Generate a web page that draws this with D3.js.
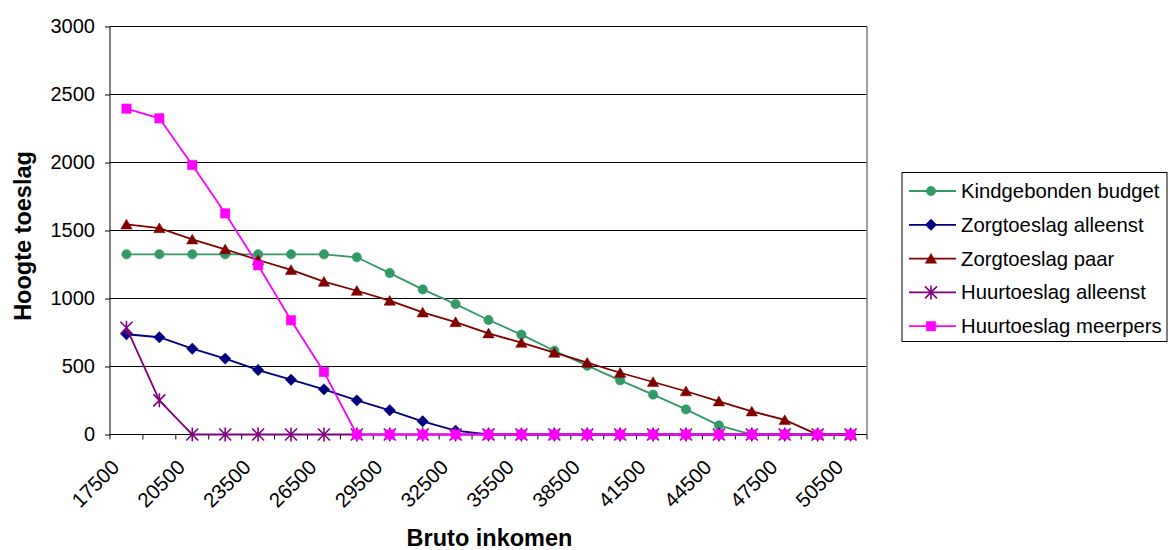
<!DOCTYPE html>
<meta charset="utf-8">
<style>
body { margin: 0; background: #fff; }
svg text { font-family: "Liberation Sans", Arial, sans-serif; }
</style>
<body>
<div id="chart"></div>
<script src="https://d3js.org/d3.v7.min.js"></script>
<script>
// x categories: bruto inkomen, step 1500
var incomes = [17500, 19000, 20500, 22000, 23500, 25000, 26500, 28000, 29500, 31000, 32500, 34000,
  35500, 37000, 38500, 40000, 41500, 43000, 44500, 46000, 47500, 49000, 50500];
var yTicks = [0, 500, 1000, 1500, 2000, 2500, 3000];

var seriesNames = ["Kindgebonden budget", "Zorgtoeslag alleenst", "Zorgtoeslag paar",
  "Huurtoeslag alleenst", "Huurtoeslag meerpers"];

var kindgebonden = [1325, 1325, 1325, 1325, 1325, 1325, 1325, 1303, 1187, 1067, 959, 842,
  734, 616, 506, 398, 293, 185, 67, 0, 0, 0, 0];
var zorgAlleen = [737, 715, 631, 558, 474, 403, 332, 251, 178, 97, 28, 0,
  0, 0, 0, 0, 0, 0, 0, 0, 0, 0, 0];
var zorgPaar = [1545, 1518, 1435, 1362, 1283, 1210, 1124, 1057, 984, 898, 827, 744,
  675, 602, 528, 454, 386, 318, 244, 170, 107, 0, 0];
var huurAlleen = [785, 251, 0, 0, 0, 0, 0, 0, 0, 0, 0, 0,
  0, 0, 0, 0, 0, 0, 0, 0, 0, 0, 0];
var huurMeer = [2396, 2325, 1982, 1626, 1244, 840, 460, 0, 0, 0, 0, 0,
  0, 0, 0, 0, 0, 0, 0, 0, 0, 0, 0];

var seriesValues = [kindgebonden, zorgAlleen, zorgPaar, huurAlleen, huurMeer];
var colors = ["#339966", "#000080", "#800000", "#800080", "#ff00ff"];
var shapes = ["circle", "diamond", "triangle", "star", "square"];

var w = 1168, h = 550;
var plotLeft = 110, plotRight = 867, plotTop = 26.5, plotBottom = 434.5;

var svg = d3.select("#chart").append("svg")
  .attr("width", w)
  .attr("height", h);

var x = d3.scaleBand()
  .domain(incomes)
  .range([plotLeft, plotRight])
  .padding(0);

var y = d3.scaleLinear()
  .domain([0, 3000])
  .range([plotBottom, plotTop]);

function cx(d, i) { return x(incomes[i]) + x.bandwidth() / 2; }

// marker path generator
function marker(shape) {
  if (shape == "circle") return "M4.7,0A4.7,4.7 0 1,1 -4.7,0A4.7,4.7 0 1,1 4.7,0Z";
  if (shape == "diamond") return "M0,-5.7L5.7,0L0,5.7L-5.7,0Z";
  if (shape == "triangle") return "M0,-5.2L5.7,4.6L-5.7,4.6Z";
  if (shape == "square") return "M-4.7,-4.7H4.7V4.7H-4.7Z";
  // star: X plus vertical bar
  return "M-6,-6L6,6M-6,6L6,-6M0,-7L0,7";
}

// gridlines
svg.append("g")
  .selectAll("line")
  .data(yTicks.slice(1))
  .enter().append("line")
  .attr("x1", plotLeft)
  .attr("x2", plotRight)
  .attr("y1", function(d) { return y(d); })
  .attr("y2", function(d) { return y(d); })
  .attr("stroke", "#000")
  .attr("stroke-width", 1);

// right border of plot area
svg.append("line")
  .attr("x1", plotRight).attr("x2", plotRight)
  .attr("y1", plotTop).attr("y2", plotBottom)
  .attr("stroke", "#808080")
  .attr("stroke-width", 1.5);

// y axis
var yAxis = svg.append("g")
  .attr("transform", "translate(" + plotLeft + ",0)")
  .call(d3.axisLeft(y).tickValues(yTicks).tickSize(5).tickPadding(10).tickFormat(d3.format("d")));
yAxis.selectAll("path").attr("stroke", "#000").attr("d", "M0," + plotTop + "V" + plotBottom);
yAxis.selectAll("line").attr("stroke", "#000");
yAxis.selectAll("text")
  .style("font-size", "20px")
  .attr("fill", "#000")
  .style("font-family", "Liberation Sans, Arial, sans-serif");

// x axis line and boundary ticks
svg.append("line")
  .attr("x1", plotLeft).attr("x2", plotRight)
  .attr("y1", plotBottom).attr("y2", plotBottom)
  .attr("stroke", "#000");

var bounds = incomes.map(function(d) { return x(d); }).concat([plotRight]);
svg.append("g")
  .selectAll("line")
  .data(bounds)
  .enter().append("line")
  .attr("x1", function(d) { return d; })
  .attr("x2", function(d) { return d; })
  .attr("y1", plotBottom)
  .attr("y2", plotBottom + 5)
  .attr("stroke", "#000");

// x labels, every other category, rotated
svg.append("g")
  .selectAll("text")
  .data(incomes.filter(function(d, i) { return i % 2 == 0; }))
  .enter().append("text")
  .attr("transform", function(d) {
    return "translate(" + (x(d) + x.bandwidth() / 2 - 6) + "," + (plotBottom + 34) + ") rotate(-45)";
  })
  .attr("text-anchor", "end")
  .style("font-size", "20.5px")
  .attr("fill", "#000")
  .text(function(d) { return d; });

// series
var line = d3.line()
  .x(cx)
  .y(function(d) { return y(d); });

seriesValues.forEach(function(vals, s) {
  var g = svg.append("g");
  g.append("path")
    .attr("d", line(vals))
    .attr("fill", "none")
    .attr("stroke", colors[s])
    .attr("stroke-width", 1.8);

  g.selectAll("path.mk")
    .data(vals)
    .enter().append("path")
    .attr("class", "mk")
    .attr("transform", function(d, i) { return "translate(" + cx(d, i) + "," + y(d) + ")"; })
    .attr("d", marker(shapes[s]))
    .attr("fill", shapes[s] == "star" ? "none" : colors[s])
    .attr("stroke", colors[s])
    .attr("stroke-width", shapes[s] == "star" ? 1.6 : 0.5);
});

// axis titles
svg.append("text")
  .attr("transform", "translate(31,236) rotate(-90)")
  .attr("text-anchor", "middle")
  .style("font-size", "23.5px")
  .style("font-weight", "bold")
  .text("Hoogte toeslag");

svg.append("text")
  .attr("x", 489.5)
  .attr("y", 545.5)
  .attr("text-anchor", "middle")
  .style("font-size", "23.5px")
  .style("font-weight", "bold")
  .text("Bruto inkomen");

// legend
var lx = 902, ly = 172.5, lw = 265, lh = 169;
svg.append("rect")
  .attr("x", lx).attr("y", ly)
  .attr("width", lw).attr("height", lh)
  .attr("fill", "#fff")
  .attr("stroke", "#000")
  .attr("stroke-width", 1);

var legend = svg.append("g")
  .selectAll("g")
  .data(seriesNames)
  .enter().append("g")
  .attr("transform", function(d, i) { return "translate(0," + (191 + i * 33.8) + ")"; });

legend.append("line")
  .attr("x1", 909).attr("x2", 956)
  .attr("y1", 0).attr("y2", 0)
  .attr("stroke", function(d, i) { return colors[i]; })
  .attr("stroke-width", 1.8);

legend.append("path")
  .attr("transform", "translate(931,0)")
  .attr("d", function(d, i) { return marker(shapes[i]); })
  .attr("fill", function(d, i) { return shapes[i] == "star" ? "none" : colors[i]; })
  .attr("stroke", function(d, i) { return colors[i]; })
  .attr("stroke-width", function(d, i) { return shapes[i] == "star" ? 1.6 : 0.5; });

legend.append("text")
  .attr("x", 961)
  .attr("y", 7)
  .style("font-size", "20.3px")
  .attr("fill", "#000")
  .text(function(d) { return d; });
</script>
</body>
